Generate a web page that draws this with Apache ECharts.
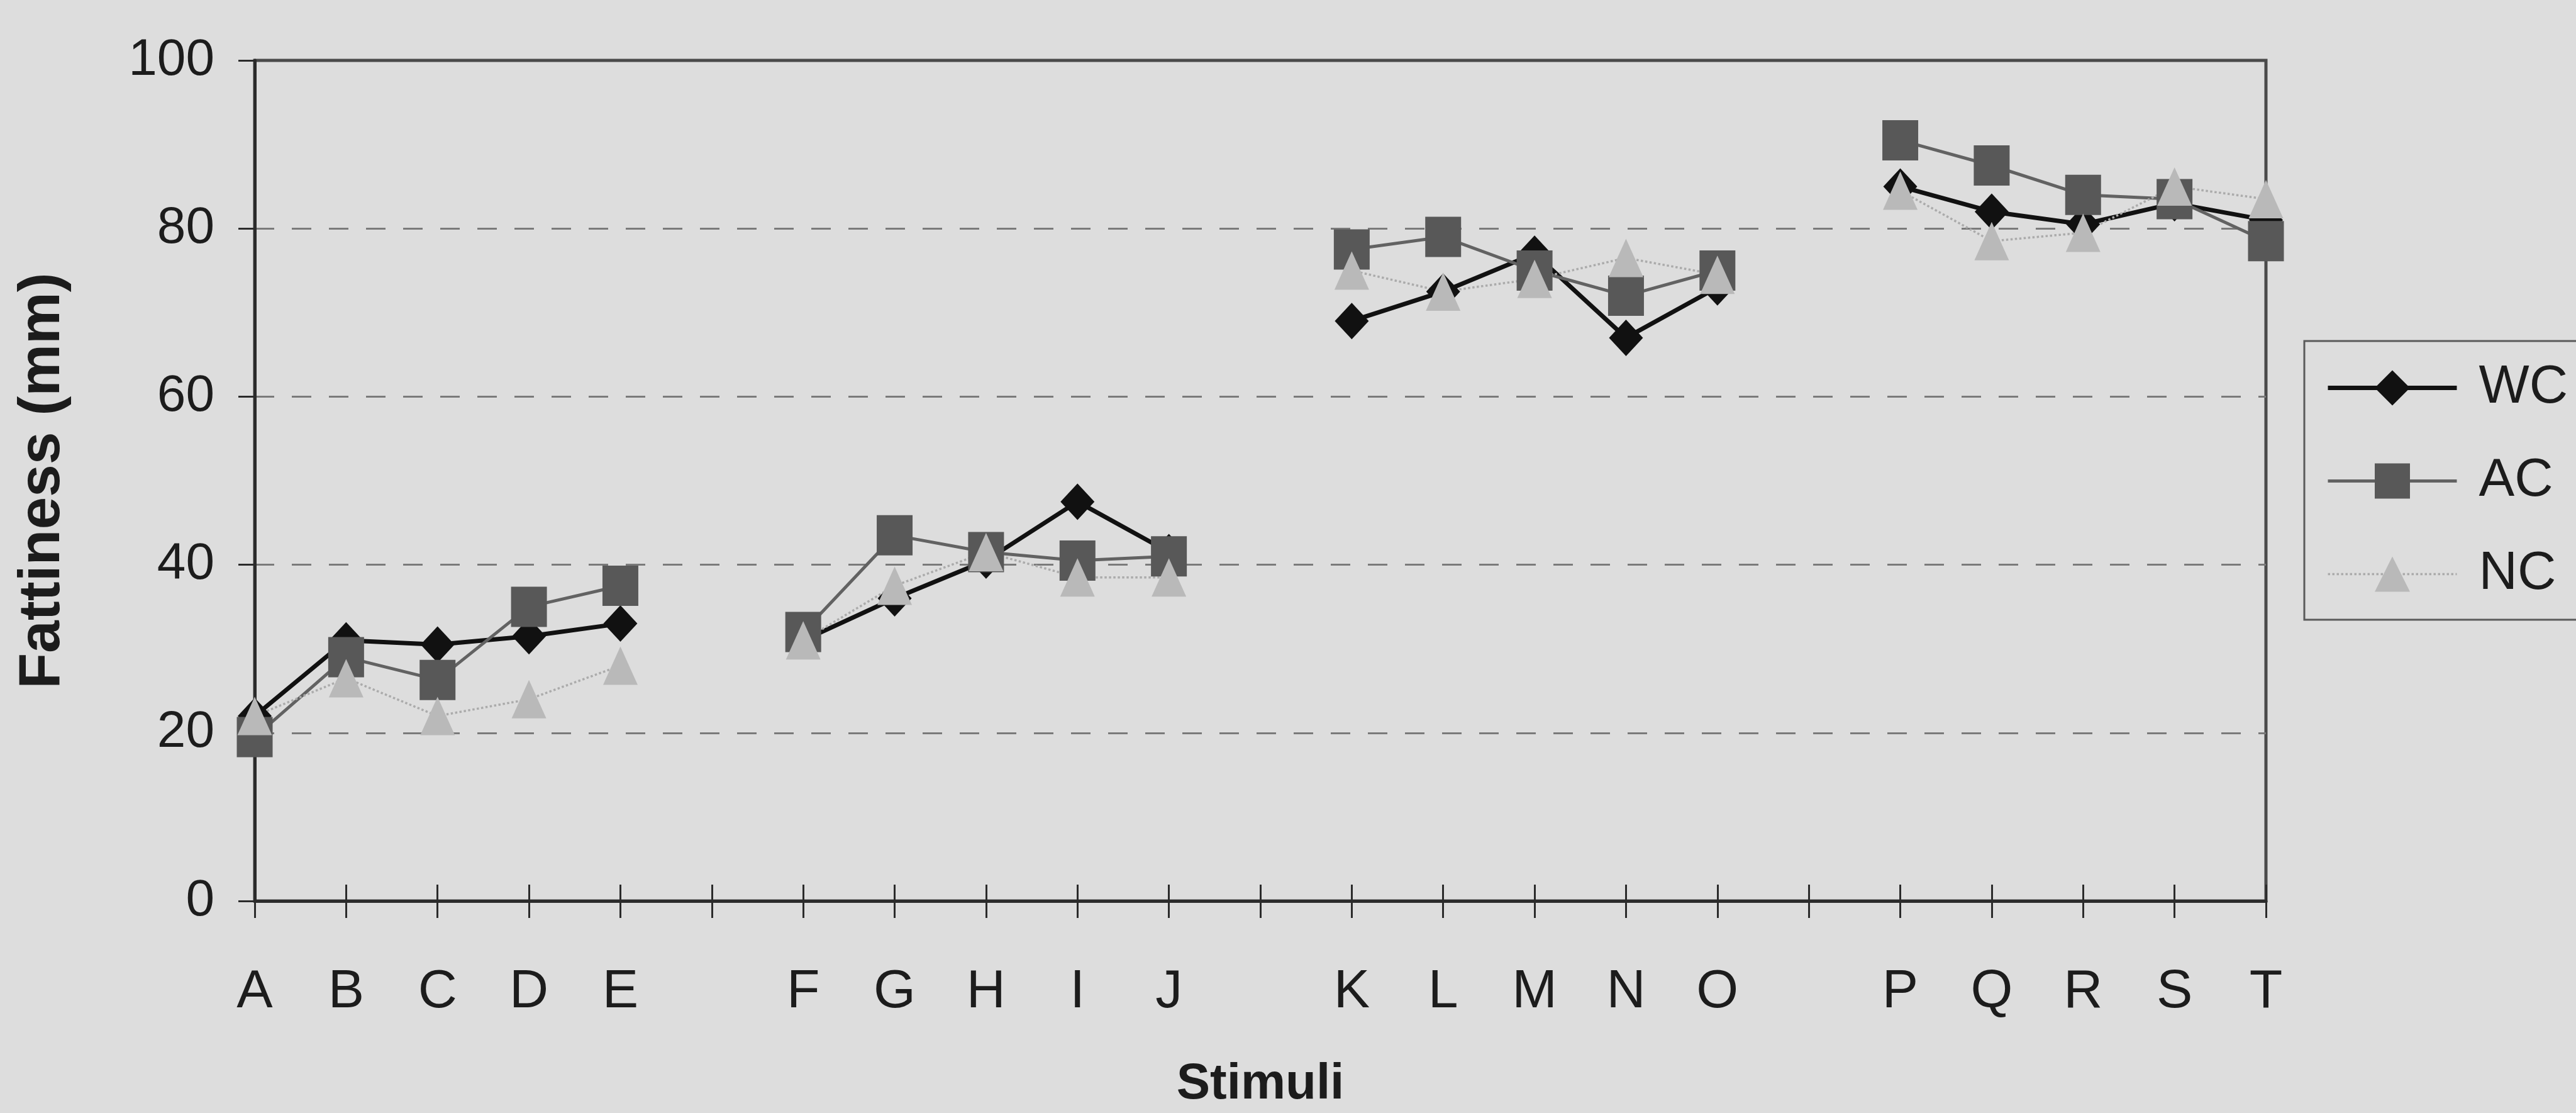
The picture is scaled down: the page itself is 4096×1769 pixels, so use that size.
<!DOCTYPE html>
<html>
<head>
<meta charset="utf-8">
<script src="https://cdn.jsdelivr.net/npm/echarts@6/dist/echarts.min.js"></script>
<style>
  html, body { margin: 0; padding: 0; background: #dddddd; }
  #chart { width: 4096px; height: 1769px; }
</style>
</head>
<body>
<div id="chart"></div>
<script>
// Stimuli on the x axis; empty slots separate the four groups of five.
const stimuli = ['A', 'B', 'C', 'D', 'E', '', 'F', 'G', 'H', 'I', 'J', '', 'K', 'L', 'M', 'N', 'O', '', 'P', 'Q', 'R', 'S', 'T'];

// Mean fattiness ratings (mm) per group; null marks the gaps between stimulus sets.
const wcValues = [22, 31, 30.5, 31.5, 33, null, 31, 36, 40.5, 47.5, 41.5, null, 69, 72.5, 77, 67, 73, null, 85, 82, 80.5, 83, 81];
const acValues = [19.5, 29, 26.3, 35, 37.5, null, 32, 43.5, 41.5, 40.5, 41, null, 77.5, 79, 75, 72, 75, null, 90.5, 87.5, 84, 83.5, 78.5];
const ncValues = [22, 26.5, 22, 24, 28, null, 31, 37.5, 41.5, 38.5, 38.5, null, 75, 72.5, 74, 76.5, 74.5, null, 84.5, 78.5, 79.5, 85, 83.5];

// Value axis ticks
const yTicks = [0, 20, 40, 60, 80, 100];

const FONT = "'Liberation Sans', Arial, sans-serif";
const NARROW = "'Liberation Sans Narrow', 'Liberation Sans', Arial, sans-serif";

// Size the x-axis title so that its width comes out at the intended span.
function fitFontSize(text, family, weight, targetWidth) {
  const ctx = document.createElement('canvas').getContext('2d');
  ctx.font = weight + ' 100px ' + family;
  return Math.round(100 * targetWidth / ctx.measureText(text).width);
}
const stimuliSize = Math.min(96, fitFontSize('Stimuli', NARROW, 'bold', 268));

// Line and marker styles shared by the series and their legend entries
const styles = {
  WC: { line: { color: '#111111', width: 7 }, fill: '#111111', symbol: 'diamond', size: [54, 58] },
  AC: { line: { color: '#626262', width: 5 }, fill: '#585858', symbol: 'rect', size: [57, 64] },
  NC: { line: { color: '#ababab', width: 3.5, type: 'dotted' }, fill: '#b9b9b9', symbol: 'triangle', size: [55, 61] }
};

const plot = { left: 405, top: 96, width: 3198, height: 1337 };

const chart = echarts.init(document.getElementById('chart'), null, { renderer: 'canvas' });

function lineSeries(name, values) {
  const s = styles[name];
  return {
    name: name,
    type: 'line',
    xAxisIndex: 0,
    yAxisIndex: 0,
    data: values,
    connectNulls: false,
    showSymbol: true,
    showAllSymbol: true,
    symbol: s.symbol,
    symbolSize: s.size,
    lineStyle: s.line,
    itemStyle: { color: s.fill, borderWidth: 0 },
    emphasis: { disabled: true }
  };
}

chart.setOption({
  animation: false,
  backgroundColor: '#dddddd',
  textStyle: { fontFamily: FONT },
  grid: [
    Object.assign({ show: true, borderColor: '#4a4a4a', borderWidth: 5, backgroundColor: 'transparent' }, plot),
    Object.assign({ show: false }, plot)
  ],
  legend: {
    orient: 'vertical',
    left: 3664,
    top: 542,
    padding: [32, 140, 30, 34],
    itemWidth: 205,
    itemHeight: 70,
    itemGap: 63,
    borderColor: '#5a5a5a',
    borderWidth: 3,
    selectedMode: false,
    textStyle: { fontFamily: FONT, fontSize: 85, color: '#1c1c1c', padding: [0, 0, 0, 30] },
    data: ['WC', 'AC', 'NC'].map(function (n) {
      return { name: n, lineStyle: styles[n].line, itemStyle: { color: styles[n].fill, borderWidth: 0 } };
    })
  },
  xAxis: [
    {
      type: 'category',
      gridIndex: 0,
      data: stimuli,
      boundaryGap: false,
      axisLine: { lineStyle: { color: '#2b2b2b', width: 5 } },
      axisTick: { interval: 0, length: 27, lineStyle: { color: '#2b2b2b', width: 3 } },
      axisLabel: { interval: 0, margin: 102, fontFamily: FONT, fontSize: 86, color: '#1c1c1c' },
      splitLine: { show: false },
      name: 'Stimuli',
      nameLocation: 'middle',
      nameGap: 252,
      nameTextStyle: { fontFamily: NARROW, fontWeight: 'bold', fontSize: stimuliSize, color: '#1c1c1c' }
    },
    {
      // inner half of the cross tick marks
      type: 'category',
      gridIndex: 1,
      data: stimuli,
      boundaryGap: false,
      axisLine: { show: false },
      axisTick: { inside: true, interval: 0, length: 27, lineStyle: { color: '#2b2b2b', width: 3 } },
      axisLabel: { show: false },
      splitLine: { show: false }
    }
  ],
  yAxis: [
    {
      type: 'value',
      gridIndex: 0,
      min: yTicks[0],
      max: yTicks[yTicks.length - 1],
      interval: yTicks[1] - yTicks[0],
      axisLine: { show: true, lineStyle: { color: '#2b2b2b', width: 5 } },
      axisTick: { show: true, length: 26, lineStyle: { color: '#2b2b2b', width: 3 } },
      axisLabel: { margin: 64, fontFamily: FONT, fontSize: 82, color: '#1c1c1c' },
      splitLine: {
        show: true,
        showMinLine: false,
        showMaxLine: false,
        lineStyle: { color: '#7a7a7a', width: 3, type: [31, 28] }
      },
      name: 'Fattiness (mm)',
      nameLocation: 'middle',
      nameGap: 290,
      nameTextStyle: { fontFamily: FONT, fontWeight: 'bold', fontSize: 93, color: '#1c1c1c' }
    },
    {
      type: 'value',
      gridIndex: 1,
      min: yTicks[0],
      max: yTicks[yTicks.length - 1],
      show: false
    }
  ],
  series: [
    lineSeries('WC', wcValues),
    lineSeries('AC', acValues),
    lineSeries('NC', ncValues)
  ]
});
</script>
</body>
</html>
